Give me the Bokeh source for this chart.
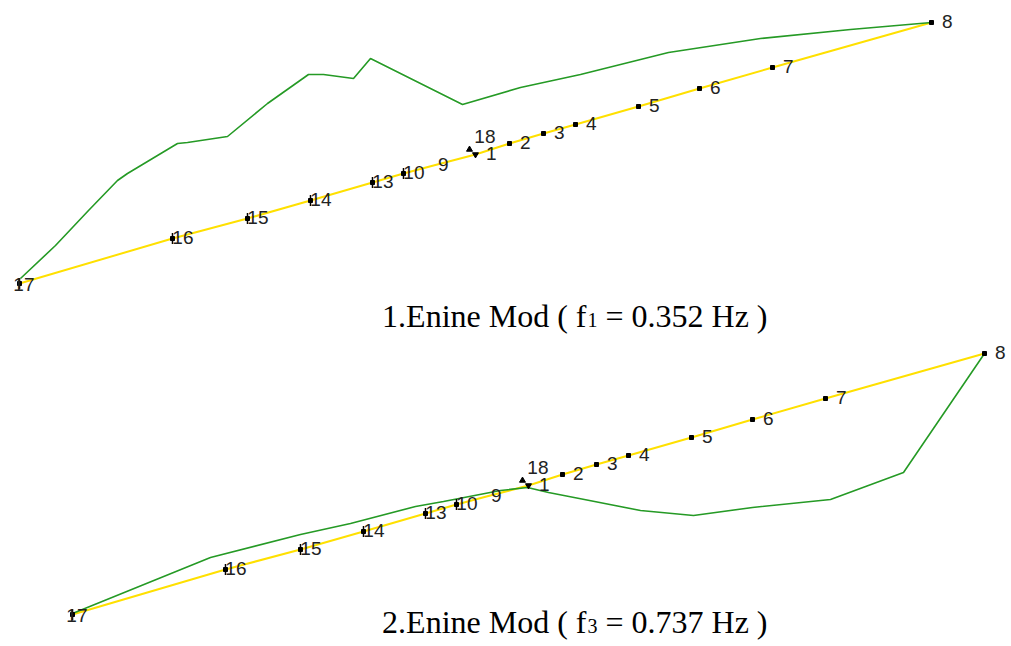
from bokeh.plotting import figure
from bokeh.layouts import column
from bokeh.models import ColumnDataSource, Range1d
from bokeh.core.properties import value
from bokeh.embed import file_html
from bokeh.resources import INLINE

# ---- data (model units) ----
node_ids = ["17", "16", "15", "14", "13", "10", "9", "18", "1", "2", "3", "4", "5", "6", "7", "8"]
node_x = [0, 153, 228, 291, 353, 384, 414, 450, 456, 490, 524, 556, 619, 680, 753, 912]
node_y = [0, 45, 65, 83, 101, 110, 118, 134, 129, 140, 150, 159, 177, 195, 216, 261]
support_nodes = ["17", "16", "15", "14", "13", "10"]

# mode shape 1 (f1 = 0.352 Hz)
mode1_x = [1, 36, 69, 98, 108, 158, 168, 208, 248, 289, 304, 334, 351, 443, 501, 561, 649, 741, 831, 912]
mode1_y = [5, 38, 73, 103, 110, 140, 141, 147, 180, 209, 209, 205, 225, 179, 196, 209, 231, 245, 254, 261]

# mode shape 2 (f3 = 0.737 Hz)
mode2_x = [0, 138, 228, 278, 343, 371, 428, 455, 476, 517, 568, 621, 680, 758, 831, 912]
mode2_y = [1, 57, 80, 91, 108, 113, 124, 127, 122, 114, 104, 99, 107, 115, 142, 261]

captions = [("1.Enine Mod ( f", "1", "= 0.352 Hz )"),
            ("2.Enine Mod ( f", "3", "= 0.737 Hz )")]

YELLOW = "#FFE000"
GREEN = "#259A25"
W = 1011


def make_panel(height, xr, yr, mx, my, cap, cap_pos):
    p = figure(width=W, height=height, x_range=Range1d(*xr), y_range=Range1d(*yr),
               output_backend="svg", toolbar_location=None, min_border=0,
               x_axis_type=None, y_axis_type=None)
    p.grid.visible = False
    p.outline_line_color = None
    p.background_fill_color = "white"
    p.border_fill_color = "white"

    # undeformed deck (yellow) – all nodes except 18
    dx = [x for x, n in zip(node_x, node_ids) if n != "18"]
    dy = [y for y, n in zip(node_y, node_ids) if n != "18"]
    p.line(dx, dy, line_color=YELLOW, line_width=2)

    # mode shape (green)
    p.line(mx, my, line_color=GREEN, line_width=1.6)

    # node markers
    sq = [(x, y) for x, y, n in zip(node_x, node_y, node_ids) if n not in ("9", "18", "1")]
    p.scatter([a for a, b in sq], [b for a, b in sq], marker="square", size=4,
              fill_color="black", line_color="black")
    i18 = node_ids.index("18")
    i1 = node_ids.index("1")
    p.scatter([node_x[i18]], [node_y[i18]], marker="triangle", size=6,
              fill_color="black", line_color="black")
    p.scatter([node_x[i1]], [node_y[i1]], marker="inverted_triangle", size=6,
              fill_color="black", line_color="black")
    sup = [(x, y) for x, y, n in zip(node_x, node_y, node_ids) if n in support_nodes]
    p.scatter([a for a, b in sup], [b for a, b in sup], marker="dash", angle=1.5708,
              size=11, line_color="black", line_width=1.5)

    # node labels
    xo = []
    yo = []
    for n in node_ids:
        if n == "18":
            xo.append(26); yo.append(-13)
        elif n == "17":
            xo.append(15); yo.append(1)
        elif n == "9":
            xo.append(15); yo.append(-1)
        else:
            xo.append(21); yo.append(-1)
    src = ColumnDataSource(dict(x=node_x, y=node_y, t=node_ids, xo=xo, yo=yo))
    p.text(x="x", y="y", text="t", x_offset="xo", y_offset="yo", source=src,
           text_font=value("Liberation Sans"), text_font_size="19px",
           text_color="#222222", text_align="right", text_baseline="middle")

    # caption
    (cx, cy) = cap_pos
    p.text([cx], [cy], text=[cap[0]], text_font=value("Liberation Serif"),
           text_font_size="32px", text_color="black", text_align="right",
           text_baseline="alphabetic")
    p.text([cx], [cy], text=[cap[1]], x_offset=1, y_offset=4,
           text_font=value("Liberation Serif"), text_font_size="20px",
           text_color="black", text_align="left", text_baseline="alphabetic")
    p.text([cx], [cy], text=[cap[2]], x_offset=19,
           text_font=value("Liberation Serif"), text_font_size="32px",
           text_color="black", text_align="left", text_baseline="alphabetic")
    return p


p1 = make_panel(338, (-19, W - 19), (-55, 283), mode1_x, mode1_y, captions[0], (567, -32))
p2 = make_panel(308, (-72, W - 72), (-32, 276), mode2_x, mode2_y, captions[1], (514, -7))

layout = column(p1, p2, spacing=0)
open("out.html", "w").write(file_html(layout, INLINE))
